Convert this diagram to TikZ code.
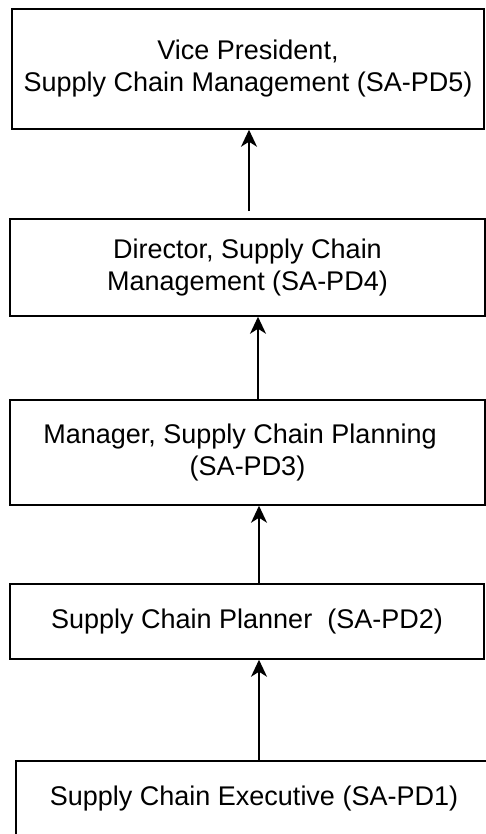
\documentclass[tikz,border=0pt]{standalone}
\usepackage{fontspec}
\setmainfont{Liberation Sans}
\usetikzlibrary{arrows.meta}
\begin{document}
\begin{tikzpicture}[x=1pt,y=-1pt,
  box/.style={draw, line width=1.5pt, inner sep=0pt, align=center,
    font=\fontsize{27}{32}\selectfont},
  arr/.style={line width=1.5pt, -{Stealth[length=17pt,width=16pt,inset=5pt]}}]
\useasboundingbox (0,0) rectangle (486,834);
\node[box, minimum width=472pt, minimum height=120pt] (b1) at (248,69)
  {Vice President,\\Supply Chain Management (SA-PD5)};
\node[box, minimum width=475pt, minimum height=97pt] (b2) at (247.5,267.5)
  {Director, Supply Chain\\Management (SA-PD4)};
\node[box, minimum width=475pt, minimum height=105pt] (b3) at (247.5,452.5)
  {Manager, Supply Chain Planning\rule{15pt}{0pt}\\(SA-PD3)};
\node[box, minimum width=474pt, minimum height=75pt] (b4) at (247,621.5)
  {Supply Chain Planner\ \ (SA-PD2)};
\node[box, minimum width=476pt, minimum height=76pt] (b5) at (254,799)
  {Supply Chain Executive (SA-PD1)};
\draw[arr] ([xshift=1.5pt,yshift=7pt]b2.north) -- ([xshift=1pt]b1.south);
\draw[arr] ([xshift=10.5pt]b3.north) -- ([xshift=10.5pt]b2.south);
\draw[arr] ([xshift=12pt]b4.north) -- ([xshift=11.5pt]b3.south);
\draw[arr] ([xshift=5pt]b5.north) -- ([xshift=12pt]b4.south);
\end{tikzpicture}
\end{document}
